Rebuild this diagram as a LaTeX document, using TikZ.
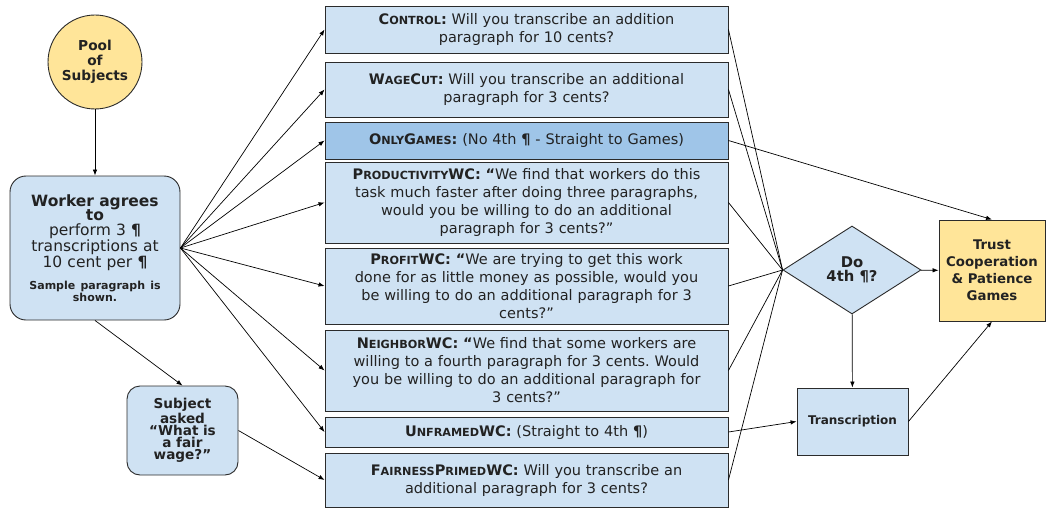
\documentclass[tikz,border=0pt]{standalone}
\usepackage{fontspec}
\setmainfont{DejaVu Sans}
\usetikzlibrary{shapes.geometric,arrows.meta}
\definecolor{condblue}{HTML}{CFE2F3}
\definecolor{gameblue}{HTML}{9FC5E8}
\definecolor{poolyellow}{HTML}{FFE599}
\definecolor{edgegray}{HTML}{2B2B2B}
\definecolor{inkgray}{HTML}{222222}
\newcommand{\capsword}[1]{{\fontsize{11.2}{12}\selectfont #1}}
\frenchspacing
\tikzset{
  basic/.style = {draw=edgegray, line width=0.9pt, text=inkgray, align=center, inner sep=2pt},
  cond/.style = {basic, rectangle, fill=condblue, minimum width=403pt, text width=399pt,
                 font=\fontsize{14.5}{18}\selectfont},
  start/.style = {basic, rectangle, rounded corners=16pt, fill=condblue},
  link/.style = {draw=black, line width=0.7pt, -{Latex[length=6pt,width=4.5pt]}},
  merge/.style = {draw=black, line width=0.7pt},
}

\begin{document}
\begin{tikzpicture}[x=1pt, y=-1pt]
 \useasboundingbox (0,0) rectangle (1046,508);

 % left column
 \node[basic, circle, fill=poolyellow, minimum size=94pt, font=\bfseries\fontsize{13.7}{15}\selectfont]
   (pool) at (95,62) {Pool\\of\\Subjects};
 \node[start, minimum width=170pt, minimum height=144pt, text width=166pt, font=\fontsize{15.5}{14.5}\selectfont]
   (worker) at (95,248) {\textbf{Worker agrees}\\\textbf{to}\\perform 3 \textbf{¶}\\transcriptions at\\10 cent per \textbf{¶}\\[10pt]
   {\bfseries\fontsize{11}{9.5}\selectfont Sample paragraph is\\shown.\par}};
 \node[start, rounded corners=13pt, minimum width=111pt, minimum height=89pt, text width=107pt,
   font=\bfseries\fontsize{13.6}{12.2}\selectfont]
   (subject) at (182.5,430.5) {Subject\\asked\\“What is\\a fair\\wage?”};

 % treatment conditions
 \node[cond, minimum height=47pt] (control) at (526.5,29.5)
   {\textbf{C\capsword{ONTROL}:} Will you transcribe an addition\\paragraph for 10 cents?};
 \node[cond, minimum height=55pt] (wagecut) at (526.5,89.5)
   {\textbf{W\capsword{AGE}C\capsword{UT}:} Will you transcribe an additional\\paragraph for 3 cents?};
 \node[cond, fill=gameblue, minimum height=37pt] (onlygames) at (526.5,140.5)
   {\textbf{O\capsword{NLY}G\capsword{AMES}:} (No 4th \textbf{¶} - Straight to Games)};
 \node[cond, minimum height=81pt] (productivity) at (526.5,202.5)
   {\textbf{P\capsword{RODUCTIVITY}WC: “}We find that workers do this\\task much faster after doing three paragraphs,\\would you be willing to do an additional\\paragraph for 3 cents?”};
 \node[cond, minimum height=76pt] (profit) at (526.5,286)
   {\textbf{P\capsword{ROFIT}WC: “}We are trying to get this work\\done for as little money as possible, would you\\be willing to do an additional paragraph for 3\\cents?”};
 \node[cond, minimum height=81pt] (neighbor) at (526.5,370.5)
   {\textbf{N\capsword{EIGHBOR}WC: “}We find that some workers are\\willing to a fourth paragraph for 3 cents. Would\\you be willing to do an additional paragraph for\\3 cents?”};
 \node[cond, minimum height=30pt] (unframed) at (526.5,432)
   {\textbf{U\capsword{NFRAMED}WC:} (Straight to 4th \textbf{¶})};
 \node[cond, minimum height=54pt] (fairness) at (526.5,480)
   {\textbf{F\capsword{AIRNESS}P\capsword{RIMED}WC:} Will you transcribe an\\additional paragraph for 3 cents?};

 % right column
 \node[basic, diamond, fill=condblue, minimum width=138pt, minimum height=88pt, inner sep=0pt,
   font=\bfseries\fontsize{14.8}{14}\selectfont] (decide) at (852,270) {Do\\4th ¶?};
 \node[basic, rectangle, fill=poolyellow, minimum width=106pt, minimum height=101pt,
   font=\bfseries\fontsize{13.3}{17}\selectfont] (games) at (992,270.5) {Trust\\Cooperation\\\& Patience\\Games};
 \node[basic, rectangle, fill=condblue, minimum width=111pt, minimum height=67pt,
   font=\bfseries\fontsize{12}{12}\selectfont] (transcribe) at (852.5,421.5) {Transcription};

 % connectors
 \draw[link] (pool) -- (worker);
 \draw[link] (worker.south) -- (subject.north);
 \foreach \cnd in {control, wagecut, onlygames, productivity, profit, neighbor, unframed}
   \draw[link] (worker.east) -- (\cnd.west);
 \draw[link] (subject.east) -- (fairness.west);
 \foreach \cnd in {control, wagecut, productivity, profit, neighbor, fairness}
   \draw[merge] (\cnd.east) -- (decide.west);
 \draw[link] (onlygames.east) -- (games.north);
 \draw[link] (unframed.east) -- (transcribe.west);
 \draw[link] (decide) -- (games);
 \draw[link] (decide) -- (transcribe);
 \draw[link] (transcribe.east) -- (games.south);
\end{tikzpicture}
\end{document}
